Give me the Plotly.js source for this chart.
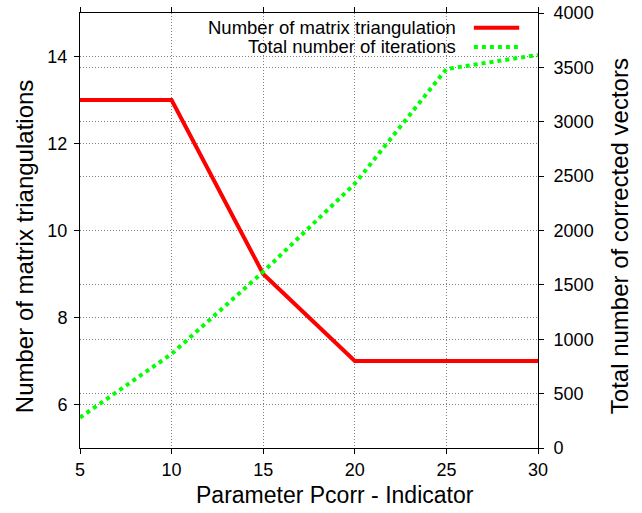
<!DOCTYPE html>
<html>
<head>
<meta charset="utf-8">
<script src="https://cdn.plot.ly/plotly-3.0.1.min.js"></script>
<style>html,body{margin:0;padding:0;background:#fff;}#chart{width:642px;height:513px;}</style>
</head>
<body>
<div id="chart"></div>
<script>
var pcorr = [5, 10, 15, 20, 25, 30];
var triangulations = [13, 13, 9, 7, 7, 7];
var iterations = [280, 865, 1620, 2430, 3485, 3615];
var xTicks = [5, 10, 15, 20, 25, 30];
var leftTicks = [6, 8, 10, 12, 14];
var rightTicks = [0, 500, 1000, 1500, 2000, 2500, 3000, 3500, 4000];
var seriesNames = ['Number of matrix triangulation', 'Total number of iterations'];
var xTitle = 'Parameter Pcorr - Indicator';
var yTitle = 'Number of matrix triangulations';
var y2Title = 'Total number of corrected vectors';

var font = 'Liberation Sans, Arial, Helvetica, sans-serif';
var gridCol = '#808080';
var gridDash = '1px,2px';

var traces = [
  {x: pcorr, y: triangulations, type: 'scatter', mode: 'lines', name: seriesNames[0],
   line: {color: '#ff0000', width: 4}, yaxis: 'y', showlegend: false},
  {x: pcorr, y: iterations, type: 'scatter', mode: 'lines', name: seriesNames[1],
   line: {color: '#00ff00', width: 4, dash: 'dot'}, yaxis: 'y2', showlegend: false}
];

var layout = {
  width: 642, height: 513,
  margin: {l: 80, r: 104, t: 13, b: 65},
  paper_bgcolor: '#fff', plot_bgcolor: '#fff',
  font: {family: font, size: 18, color: '#000'},
  showlegend: false,
  xaxis: {
    range: [5, 30], tickvals: xTicks, ticktext: xTicks.map(String),
    showline: true, linecolor: '#000', linewidth: 1, mirror: 'ticks',
    ticks: 'outside', ticklen: 5, tickcolor: '#000',
    showgrid: true, gridcolor: gridCol, griddash: gridDash, gridwidth: 1,
    zeroline: false,
    tickfont: {size: 18, family: font}
  },
  yaxis: {
    range: [5, 15], tickvals: leftTicks, ticktext: leftTicks.map(String),
    showline: true, linecolor: '#000', linewidth: 1, mirror: true,
    ticks: 'outside', ticklen: 5, tickcolor: '#000',
    showgrid: true, gridcolor: gridCol, griddash: gridDash, gridwidth: 1,
    zeroline: false, ticklabelstandoff: 3,
    tickfont: {size: 18, family: font}
  },
  yaxis2: {
    range: [0, 4000], tickvals: rightTicks, ticktext: rightTicks.map(String),
    overlaying: 'y', side: 'right',
    showline: true, linecolor: '#000', linewidth: 1,
    ticks: 'outside', ticklen: 5, tickcolor: '#000',
    showgrid: true, gridcolor: gridCol, griddash: gridDash, gridwidth: 1,
    zeroline: false, ticklabelstandoff: 6,
    tickfont: {size: 18, family: font}
  },
  annotations: [
    {xref: 'paper', yref: 'paper', x: 0.557, y: -0.108, xanchor: 'center', yanchor: 'middle',
     text: xTitle, showarrow: false, font: {size: 23, family: font, color: '#000'}},
    {xref: 'paper', yref: 'paper', x: -0.1223, y: 0.464, xanchor: 'center', yanchor: 'middle',
     textangle: -90, text: yTitle, showarrow: false, font: {size: 24, family: font, color: '#000'}},
    {xref: 'paper', yref: 'paper', x: 1.177, y: 0.487, xanchor: 'center', yanchor: 'middle',
     textangle: -90, text: y2Title, showarrow: false, font: {size: 24, family: font, color: '#000'}},
    {xref: 'paper', yref: 'paper', x: 0.826, y: 0.966, xanchor: 'right', yanchor: 'middle',
     text: seriesNames[0], showarrow: false, font: {size: 18.5, family: font, color: '#000'}},
    {xref: 'paper', yref: 'paper', x: 0.826, y: 0.922, xanchor: 'right', yanchor: 'middle',
     text: seriesNames[1], showarrow: false, font: {size: 18.5, family: font, color: '#000'}}
  ],
  shapes: [
    {type: 'line', xref: 'paper', yref: 'paper', x0: 0.860, x1: 0.959, y0: 0.966, y1: 0.966,
     line: {color: '#ff0000', width: 4}},
    {type: 'line', xref: 'paper', yref: 'paper', x0: 0.860, x1: 0.959, y0: 0.922, y1: 0.922,
     line: {color: '#00ff00', width: 4, dash: 'dot'}}
  ]
};

Plotly.newPlot('chart', traces, layout, {displayModeBar: false, staticPlot: true});
</script>
</body>
</html>
